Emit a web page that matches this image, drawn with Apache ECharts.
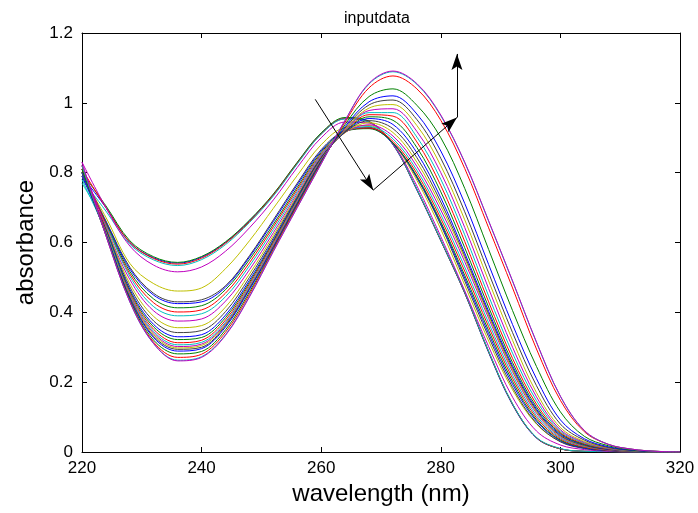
<!DOCTYPE html>
<html>
<head>
<meta charset="utf-8">
<script src="https://cdn.jsdelivr.net/npm/echarts@6/dist/echarts.min.js"></script>
<style>
html,body{margin:0;padding:0;background:#ffffff;}
#c{width:698px;height:513px;}
</style>
</head>
<body>
<div id="c"></div>
<script>
// wavelength grid (nm)
const wavelength = [220,224,228,232,236,240,244,248,252,256,260,264,268,272,276,280,284,288,292,296,300,304,308,312,316,320];

// absorbance spectra
const s01 = [0.79,0.70,0.60,0.556,0.541,0.558,0.600,0.662,0.737,0.828,0.912,0.955,0.945,0.880,0.750,0.605,0.455,0.285,0.135,0.040,0.009,0.002,0.001,0,0,0];
const s02 = [0.80,0.705,0.605,0.559,0.543,0.560,0.602,0.664,0.739,0.830,0.914,0.958,0.947,0.882,0.752,0.606,0.456,0.287,0.137,0.041,0.009,0.002,0.001,0,0,0];
const s03 = [0.81,0.70,0.60,0.554,0.538,0.555,0.598,0.660,0.736,0.827,0.911,0.955,0.946,0.881,0.752,0.607,0.457,0.288,0.137,0.041,0.009,0.002,0.001,0,0,0];
const s04 = [0.78,0.69,0.595,0.550,0.534,0.551,0.594,0.657,0.733,0.825,0.910,0.954,0.945,0.881,0.753,0.608,0.458,0.289,0.138,0.042,0.010,0.002,0.001,0,0,0];
const s05 = [0.83,0.70,0.59,0.535,0.516,0.530,0.575,0.642,0.722,0.815,0.900,0.945,0.942,0.882,0.762,0.617,0.462,0.302,0.157,0.060,0.020,0.007,0.002,0,0,0];
const s06 = [0.79,0.672,0.540,0.482,0.461,0.470,0.525,0.605,0.698,0.792,0.880,0.930,0.935,0.884,0.778,0.638,0.478,0.318,0.178,0.080,0.030,0.012,0.004,0.001,0,0];
const s07 = [0.80,0.662,0.529,0.454,0.430,0.436,0.476,0.562,0.665,0.770,0.866,0.921,0.930,0.885,0.785,0.650,0.490,0.330,0.185,0.082,0.029,0.010,0.004,0.001,0,0];
const s08 = [0.79,0.659,0.524,0.449,0.425,0.430,0.472,0.558,0.660,0.765,0.862,0.919,0.927,0.884,0.787,0.654,0.498,0.339,0.194,0.088,0.032,0.011,0.004,0.001,0,0];
const s09 = [0.80,0.656,0.517,0.438,0.413,0.419,0.465,0.551,0.652,0.758,0.858,0.918,0.926,0.885,0.790,0.659,0.506,0.348,0.202,0.092,0.034,0.013,0.005,0.001,0,0];
const s10 = [0.81,0.653,0.510,0.427,0.401,0.407,0.455,0.542,0.645,0.752,0.854,0.917,0.928,0.890,0.798,0.669,0.518,0.359,0.211,0.098,0.037,0.014,0.005,0.002,0,0];
const s11 = [0.77,0.650,0.503,0.416,0.390,0.396,0.445,0.533,0.637,0.746,0.851,0.916,0.932,0.897,0.807,0.680,0.530,0.370,0.220,0.104,0.040,0.016,0.006,0.002,0,0];
const s12 = [0.82,0.646,0.494,0.404,0.375,0.381,0.432,0.522,0.628,0.740,0.848,0.915,0.937,0.905,0.818,0.693,0.545,0.383,0.230,0.111,0.043,0.017,0.006,0.002,0.001,0];
const s13 = [0.79,0.642,0.482,0.388,0.356,0.362,0.415,0.510,0.620,0.735,0.845,0.915,0.943,0.915,0.830,0.705,0.555,0.390,0.235,0.115,0.045,0.018,0.007,0.002,0.001,0];
const s14 = [0.80,0.639,0.473,0.375,0.342,0.348,0.402,0.500,0.613,0.731,0.844,0.916,0.949,0.926,0.843,0.716,0.562,0.396,0.241,0.119,0.047,0.019,0.007,0.002,0.001,0];
const s15 = [0.79,0.636,0.466,0.365,0.330,0.336,0.392,0.492,0.607,0.728,0.842,0.917,0.955,0.938,0.857,0.728,0.570,0.403,0.247,0.123,0.050,0.021,0.008,0.003,0.001,0];
const s16 = [0.80,0.634,0.461,0.358,0.322,0.328,0.385,0.486,0.603,0.725,0.841,0.918,0.960,0.950,0.872,0.745,0.585,0.415,0.256,0.129,0.053,0.022,0.009,0.003,0.001,0];
const s17 = [0.81,0.632,0.456,0.351,0.313,0.320,0.378,0.481,0.599,0.722,0.839,0.919,0.966,0.962,0.888,0.763,0.603,0.430,0.268,0.137,0.056,0.024,0.009,0.003,0.001,0];
const s18 = [0.78,0.630,0.452,0.345,0.307,0.314,0.372,0.476,0.595,0.720,0.838,0.921,0.972,0.972,0.902,0.781,0.622,0.447,0.283,0.147,0.060,0.026,0.010,0.003,0.001,0];
const s19 = [0.82,0.628,0.449,0.340,0.302,0.309,0.368,0.472,0.592,0.717,0.837,0.923,0.978,0.983,0.918,0.800,0.643,0.468,0.300,0.158,0.064,0.028,0.011,0.004,0.001,0];
const s20 = [0.80,0.627,0.446,0.336,0.298,0.305,0.365,0.470,0.590,0.715,0.835,0.925,0.985,0.995,0.935,0.820,0.665,0.490,0.320,0.170,0.070,0.030,0.012,0.004,0.001,0];
const s21 = [0.81,0.625,0.443,0.331,0.294,0.300,0.362,0.468,0.588,0.713,0.834,0.928,0.994,1.008,0.952,0.841,0.688,0.513,0.342,0.190,0.080,0.034,0.013,0.004,0.001,0];
const s22 = [0.80,0.624,0.440,0.327,0.289,0.296,0.358,0.465,0.586,0.711,0.832,0.932,1.003,1.020,0.968,0.862,0.712,0.537,0.365,0.210,0.092,0.038,0.015,0.005,0.001,0];
const s23 = [0.81,0.622,0.436,0.320,0.281,0.288,0.350,0.458,0.582,0.708,0.830,0.938,1.018,1.040,0.993,0.900,0.755,0.580,0.405,0.245,0.115,0.045,0.018,0.006,0.002,0];
const s24 = [0.82,0.620,0.432,0.314,0.271,0.280,0.343,0.452,0.580,0.705,0.828,0.945,1.043,1.077,1.040,0.950,0.812,0.642,0.470,0.295,0.148,0.058,0.022,0.008,0.002,0];
const s25 = [0.82,0.620,0.430,0.310,0.263,0.273,0.336,0.446,0.576,0.701,0.826,0.950,1.054,1.089,1.053,0.963,0.829,0.661,0.489,0.314,0.159,0.061,0.022,0.008,0.002,0];
const s26 = [0.83,0.620,0.430,0.310,0.261,0.271,0.334,0.444,0.574,0.700,0.825,0.950,1.056,1.091,1.055,0.965,0.830,0.662,0.490,0.315,0.160,0.062,0.022,0.008,0.002,0];

const spectra = [s01,s02,s03,s04,s05,s06,s07,s08,s09,s10,s11,s12,s13,s14,s15,s16,s17,s18,s19,s20,s21,s22,s23,s24,s25,s26];

// annotation arrows: [x0, y0, x1, y1] in data units
const arrowSegments = [
  [259.0, 1.010, 268.7, 0.750],
  [268.7, 0.750, 282.7, 0.958],
  [282.7, 0.958, 282.7, 1.140]
];

// axis ticks
const xTicks = {min: 220, max: 320, step: 20};
const yTicks = {min: 0, max: 1.2, step: 0.2};

const titleText = 'inputdata';
const xName = 'wavelength (nm)';
const yName = 'absorbance';

// MATLAB (classic) color order
const lineColors = ['#0000ff','#008000','#ff0000','#00bfbf','#bf00bf','#bfbf00','#404040'];

const FONT = "'Liberation Sans', Arial, Helvetica, sans-serif";
// concave arrowhead whose tip sits at the centre of its bounding box
const ARROW_HEAD = 'path://M0,-10L5.5,6L0,2.5L-5.5,6Z M0,-26L0,-26';

const chart = echarts.init(document.getElementById('c'), null, {renderer: 'canvas'});

const series = spectra.map((s, k) => ({
  type: 'line',
  name: 'spectrum ' + (k + 1),
  data: wavelength.map((w, i) => [w, s[i]]),
  symbol: 'none',
  showSymbol: false,
  smooth: 0.35,
  silent: true,
  lineStyle: {width: 1, color: lineColors[k % lineColors.length]},
  itemStyle: {color: lineColors[k % lineColors.length]},
  z: 2
}));

series.push({
  type: 'line',
  name: 'arrows',
  data: [],
  silent: true,
  z: 5,
  itemStyle: {color: '#000000'},
  lineStyle: {color: '#000000'},
  markLine: {
    silent: true,
    animation: false,
    symbol: ['none', ARROW_HEAD],
    symbolSize: 32,
    symbolKeepAspect: true,
    label: {show: false},
    emphasis: {disabled: true},
    itemStyle: {color: '#000000'},
    lineStyle: {color: '#000000', width: 1, type: 'solid'},
    data: arrowSegments.map(a => [{coord: [a[0], a[1]]}, {coord: [a[2], a[3]]}])
  }
});

const axisCommon = {
  axisLine: {show: true, onZero: false, lineStyle: {color: '#000000', width: 1}},
  axisTick: {show: true, inside: true, length: 5, lineStyle: {color: '#000000', width: 1}},
  splitLine: {show: false}
};

const option = {
  animation: false,
  backgroundColor: '#ffffff',
  color: lineColors,
  title: {
    text: titleText,
    left: 344,
    top: 11,
    padding: 0,
    textStyle: {fontFamily: FONT, fontSize: 16, fontWeight: 'normal', color: '#000000'}
  },
  grid: {left: 82, right: 18, top: 33, bottom: 61, containLabel: false},
  xAxis: [
    Object.assign({
      type: 'value', position: 'bottom', min: xTicks.min, max: xTicks.max, interval: xTicks.step,
      axisLabel: {margin: 8, color: '#000000', fontSize: 17, fontFamily: FONT},
      name: xName, nameLocation: 'middle', nameGap: 29,
      nameTextStyle: {fontFamily: FONT, fontSize: 24, color: '#000000'}
    }, axisCommon),
    Object.assign({
      type: 'value', position: 'top', min: xTicks.min, max: xTicks.max, interval: xTicks.step,
      axisLabel: {show: false}
    }, axisCommon)
  ],
  yAxis: [
    Object.assign({
      type: 'value', position: 'left', min: yTicks.min, max: yTicks.max, interval: yTicks.step,
      axisLabel: {margin: 9, color: '#000000', fontSize: 17, fontFamily: FONT,
        formatter: v => String(+v.toFixed(1))},
      name: yName, nameLocation: 'middle', nameGap: 42,
      nameTextStyle: {fontFamily: FONT, fontSize: 24, color: '#000000'}
    }, axisCommon),
    Object.assign({
      type: 'value', position: 'right', min: yTicks.min, max: yTicks.max, interval: yTicks.step,
      axisLabel: {show: false}
    }, axisCommon)
  ],
  series: series
};

chart.setOption(option);
</script>
</body>
</html>
